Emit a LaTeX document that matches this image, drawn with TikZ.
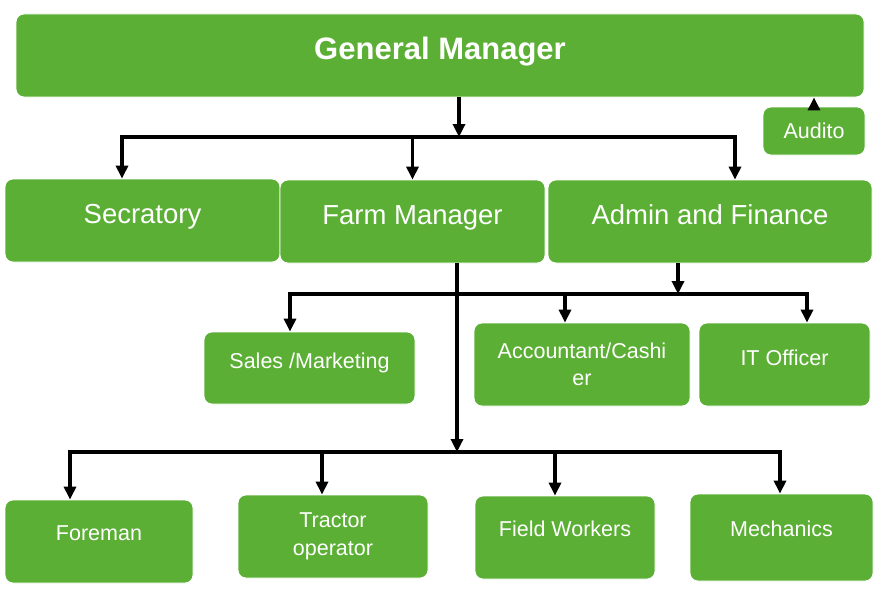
\documentclass[tikz,border=0pt]{standalone}
\usepackage{fontspec}
\setmainfont{Liberation Sans}
\usepackage{tikz}
\usetikzlibrary{arrows.meta}
\definecolor{farmgreen}{RGB}{91,175,53}

\begin{document}
\begin{tikzpicture}[x=1pt,y=-1pt,->,>={Triangle[length=13pt,width=12pt]},line width=3.5pt,
  box node/.style={rectangle,rounded corners=8pt,fill=farmgreen,draw=white,line width=0.8pt,text=white,inner sep=0pt},
  head node/.style={box node,font=\bfseries\fontsize{31}{37}\selectfont,text height=22.2pt,text depth=14pt},
  main node/.style={box node,font=\fontsize{27.5}{33}\selectfont,text height=19.7pt,text depth=14pt},
  sub node/.style={box node,font=\fontsize{21.5}{27.5}\selectfont,align=center},
  raised/.style={text height=15.4pt,text depth=#1},raised/.default=14pt,
  bar/.style={-,line width=4.5pt,line cap=rect}]

  \useasboundingbox (0,0) rectangle (880,594);

  \node[head node,minimum width=848pt,minimum height=83pt] (1) at (440,55.5) {General Manager};
  \node[sub node,minimum width=102pt,minimum height=48pt] (2) at (814,131) {Audito};
  \node[main node,minimum width=275pt,minimum height=83pt] (3) at (142.5,220.5) {Secratory};
  \node[main node,minimum width=265pt,minimum height=83pt] (4) at (412.5,221.5) {Farm Manager};
  \node[main node,minimum width=324pt,minimum height=83pt] (5) at (710,221.5) {Admin and Finance};
  \node[sub node,raised,minimum width=211pt,minimum height=72pt] (6) at (309.5,368) {Sales /Marketing};
  \node[sub node,minimum width=216pt,minimum height=83pt] (7) at (582,364.5) {Accountant/Cashi\\er};
  \node[sub node,raised,minimum width=171pt,minimum height=83pt] (8) at (784.5,364.5) {IT Officer};
  \node[sub node,raised=17pt,minimum width=188pt,minimum height=83pt] (9) at (99,541.5) {Foreman};
  \node[sub node,minimum width=190pt,minimum height=83pt] (10) at (333,536.5) {Tractor\\operator};
  \node[sub node,raised=17pt,minimum width=180pt,minimum height=83pt] (11) at (565,537.5) {Field Workers};
  \node[sub node,raised=17pt,minimum width=183pt,minimum height=87pt] (12) at (781.5,537.5) {Mechanics};

  \coordinate (a) at (459,137);
  \coordinate (a1) at (122,137);
  \coordinate (a2) at (735,137);
  \coordinate (b) at (678,294);
  \coordinate (b1) at (290,294);
  \coordinate (b2) at (807,294);
  \coordinate (b3) at (565,294);
  \coordinate (c) at (457,452);
  \coordinate (c1) at (70,452);
  \coordinate (c2) at (780,452);
  \coordinate (c3) at (322,452);
  \coordinate (c4) at (555,452);

  \draw (2.north) -- (2.north |- 1.south);

  \draw (a |- 1.south) -- (a);
  \draw[bar] (a1) -- (a2);
  \draw (a1) -- (a1 |- 3.north);
  \draw (4 |- a) -- (4.north);
  \draw (a2) -- (a2 |- 5.north);

  \draw (b |- 5.south) -- (b);
  \draw[bar] (b1) -- (b2);
  \draw (b1) -- (b1 |- 6.north);
  \draw (b3) -- (b3 |- 7.north);
  \draw (b2) -- (b2 |- 8.north);

  \draw (c |- 4.south) -- (c);
  \draw[bar] (c1) -- (c2);
  \draw (c1) -- (c1 |- 9.north);
  \draw (c3) -- (c3 |- 10.north);
  \draw (c4) -- (c4 |- 11.north);
  \draw (c2) -- (c2 |- 12.north);

\end{tikzpicture}
\end{document}
